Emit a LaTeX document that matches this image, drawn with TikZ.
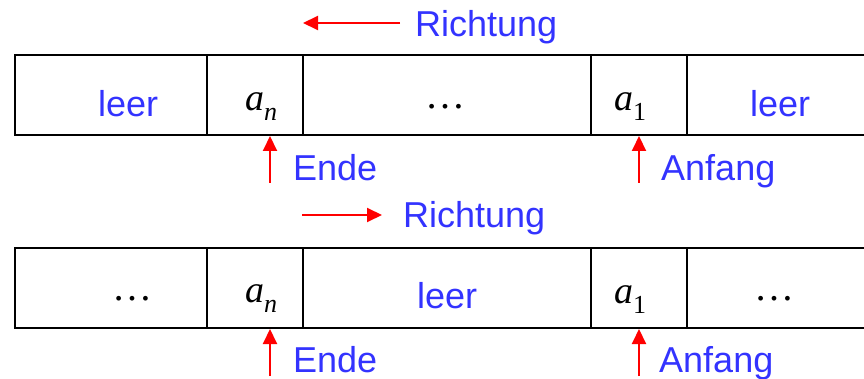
\documentclass[tikz,border=0pt]{standalone}
\usepackage{fontspec}
\setmainfont{Liberation Sans}
\newfontfamily\serifface{Liberation Serif}
\usetikzlibrary{arrows.meta}
\definecolor{txtblue}{RGB}{51,51,255}
\newcommand{\mysub}[1]{{\serifface\fontsize{38}{44}\selectfont\itshape a}\raisebox{-10pt}{\serifface\fontsize{26}{30}\selectfont #1}}
\begin{document}
\begin{tikzpicture}[x=1pt,y=-1pt,
  cell/.style={draw=black,line width=2pt,minimum height=80pt,inner sep=0pt,anchor=north west},
  lbl/.style={text=txtblue,font=\fontsize{36}{40}\selectfont,inner sep=0pt,anchor=base west},
  mth/.style={inner sep=0pt,anchor=base west},
  dots/.style={inner sep=0pt,anchor=base,font=\serifface\fontsize{40}{44}\selectfont},
  redarrow/.style={draw=red,line width=2pt,-{Triangle[length=15pt,width=14pt]}}]
\useasboundingbox (0,0) rectangle (864,379);
\clip (0,0) rectangle (864,379);
% top row
\node[cell,minimum width=192pt] (t1) at (14,54) {};
\node[cell,minimum width=96pt] (t2) at (206,54) {};
\node[cell,minimum width=288pt] (t3) at (302,54) {};
\node[cell,minimum width=96pt] (t4) at (590,54) {};
\node[cell,minimum width=190pt] (t5) at (686,54) {};
% bottom row
\node[cell,minimum width=192pt] (b1) at (14,247) {};
\node[cell,minimum width=96pt] (b2) at (206,247) {};
\node[cell,minimum width=288pt] (b3) at (302,247) {};
\node[cell,minimum width=96pt] (b4) at (590,247) {};
\node[cell,minimum width=190pt] (b5) at (686,247) {};
% top row contents
\node[lbl] (tl1) at (98,117) {leer};
\node[mth] (tan) at (245,111) {\mysub{\itshape n}};
\node[dots] (tdots) at (445,109) {…};
\node[mth] (ta1) at (614,111) {\mysub{1}};
\node[lbl] (tl5) at (750,117) {leer};
% bottom row contents
\node[dots] (bdots1) at (132,300) {…};
\node[mth] (ban) at (245,302) {\mysub{\itshape n}};
\node[lbl] (bl3) at (417,308) {leer};
\node[mth] (ba1) at (614,303) {\mysub{1}};
\node[dots] (bdots5) at (774,300) {…};
% labels
\node[lbl] (rt) at (415,37) {Richtung};
\node[lbl] (rb) at (403,228) {Richtung};
\node[lbl] (et) at (293,181) {Ende};
\node[lbl] (at) at (661,181) {Anfang};
\node[lbl] (eb) at (293,372) {Ende};
\node[lbl] (ab) at (659,372) {Anfang};
% arrows
\coordinate (rtS) at (400,23);
\coordinate (rtE) at (303,23);
\coordinate (rbS) at (302,215);
\coordinate (rbE) at (382,215);
\draw[redarrow] (rtS) -- (rtE);
\draw[redarrow] (rbS) -- (rbE);
\coordinate (etS) at (270,183);
\coordinate (atS) at (639,183);
\coordinate (ebS) at (270,376);
\coordinate (abS) at (639,376);
\draw[redarrow] (etS) -- (etS |- t2.south);
\draw[redarrow] (atS) -- (atS |- t4.south);
\draw[redarrow] (ebS) -- (ebS |- b2.south);
\draw[redarrow] (abS) -- (abS |- b4.south);
\end{tikzpicture}
\end{document}
